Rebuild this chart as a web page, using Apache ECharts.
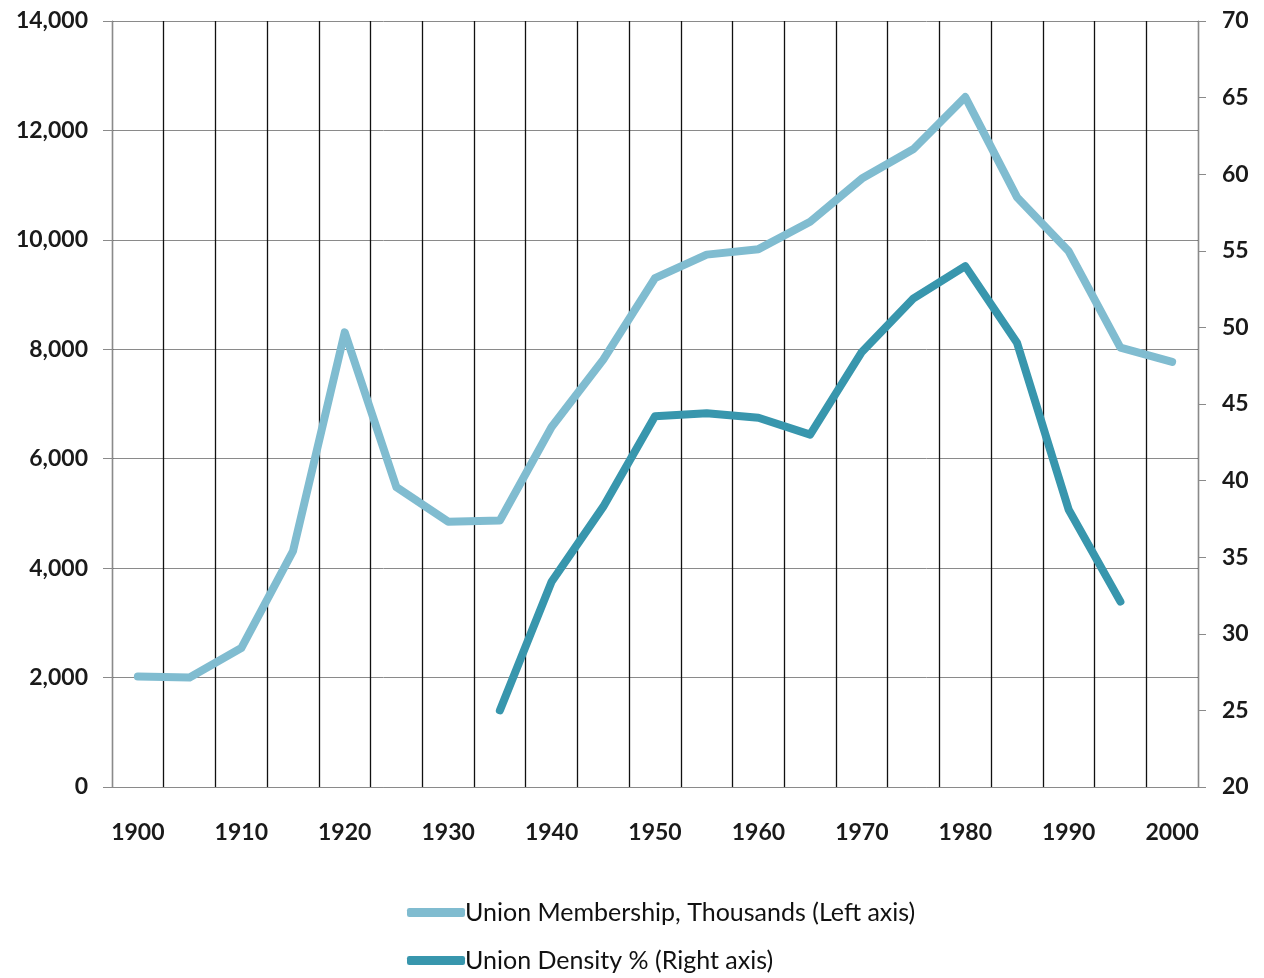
<!DOCTYPE html>
<html>
<head>
<meta charset="utf-8">
<script src="https://cdn.jsdelivr.net/npm/echarts@6/dist/echarts.min.js"></script>
<style>
  html, body { margin: 0; padding: 0; background: #fff; }
  #chart { width: 1264px; height: 978px; }
</style>
</head>
<body>
<div id="chart"></div>
<script>
const years = ["1900", "1905", "1910", "1915", "1920", "1925", "1930", "1935", "1940", "1945",
  "1950", "1955", "1960", "1965", "1970", "1975", "1980", "1985", "1990", "1995", "2000"];

// thousands of members, left axis
const membership = [2020, 2000, 2540, 4310, 8310, 5480, 4850, 4870, 6580, 7810,
  9300, 9730, 9830, 10330, 11120, 11660, 12610, 10780, 9790, 8030, 7770];

// percent, right axis (no data before 1935)
const density = [null, null, null, null, null, null, null, 25.0, 33.4, 38.3,
  44.2, 44.4, 44.1, 43.0, 48.4, 51.9, 54.0, 49.0, 38.1, 32.1, null];

const font = "Lato, 'Liberation Sans', sans-serif";
const gray = "#8a8a8a";
const labelStyle = { fontFamily: font, fontSize: 23, fontWeight: "bold", color: "#1a1a1a" };

const chart = echarts.init(document.getElementById("chart"));
chart.setOption({
  animation: false,
  backgroundColor: "#fff",
  grid: { left: 112, right: 66, top: 21, bottom: 191 },
  legend: {
    orient: "vertical",
    left: 407,
    top: 900,
    padding: 0,
    itemWidth: 58,
    itemHeight: 9,
    itemGap: 23,
    icon: "roundRect",
    textStyle: { fontFamily: font, fontSize: 25, color: "#111", padding: [0, 0, 0, -5] },
    data: ["Union Membership, Thousands (Left axis)", "Union Density % (Right axis)"]
  },
  xAxis: {
    type: "category",
    data: years,
    boundaryGap: true,
    axisLine: { lineStyle: { color: gray, width: 1 } },
    axisTick: { show: false },
    axisLabel: Object.assign({ interval: 1, margin: 34 }, labelStyle),
    splitLine: { show: true, interval: 0, lineStyle: { color: "#111", width: 1.3 } }
  },
  yAxis: [
    {
      type: "value",
      min: 0, max: 14000, interval: 2000,
      axisLine: { show: true, lineStyle: { color: gray } },
      axisTick: { show: true, length: 9, lineStyle: { color: gray } },
      axisLabel: Object.assign({ margin: 24 }, labelStyle),
      splitLine: { show: true, lineStyle: { color: gray, width: 1 } }
    },
    {
      type: "value",
      min: 20, max: 70, interval: 5,
      position: "right",
      axisLine: { show: true, lineStyle: { color: gray } },
      axisTick: { show: true, length: 8, lineStyle: { color: gray } },
      axisLabel: Object.assign({ margin: 24 }, labelStyle),
      splitLine: { show: false }
    }
  ],
  series: [
    {
      name: "Union Membership, Thousands (Left axis)",
      type: "line",
      yAxisIndex: 0,
      data: membership,
      showSymbol: false,
      symbol: "none",
      color: "#80bcd0",
      lineStyle: { width: 8, color: "#80bcd0", cap: "round", join: "round" }
    },
    {
      name: "Union Density % (Right axis)",
      type: "line",
      yAxisIndex: 1,
      data: density,
      showSymbol: false,
      symbol: "none",
      color: "#3896ad",
      lineStyle: { width: 8, color: "#3896ad", cap: "round", join: "round" }
    }
  ]
});
</script>
</body>
</html>
